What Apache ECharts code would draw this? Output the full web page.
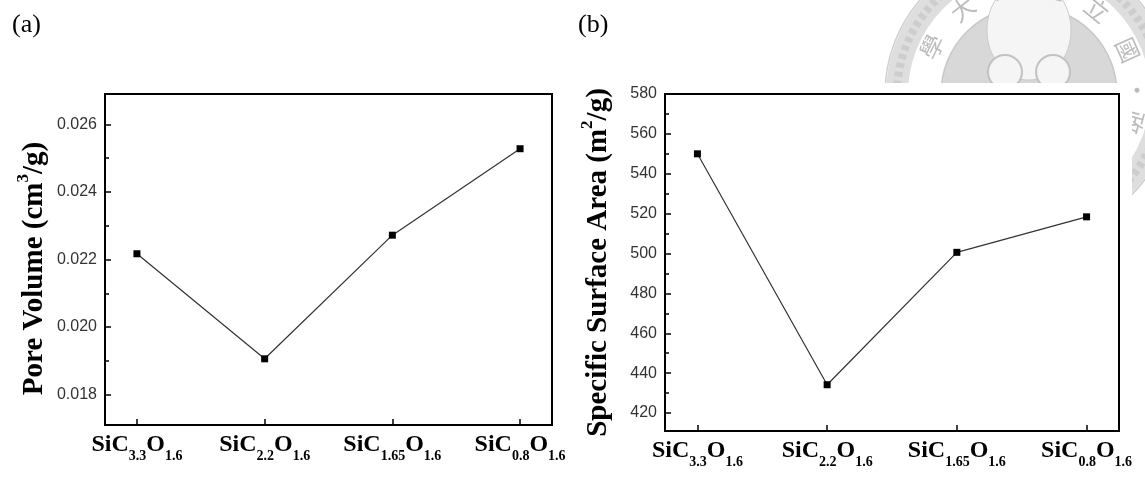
<!DOCTYPE html>
<html>
<head>
<meta charset="utf-8">
<script src="https://cdn.jsdelivr.net/npm/echarts@6/dist/echarts.min.js"></script>
<style>
  html, body { margin: 0; padding: 0; background: #fff; }
  #chart { width: 1145px; height: 483px; }
</style>
</head>
<body>
<div id="chart"></div>
<script>
// Sample compositions SiC_xO_y: [C subscript, O subscript]
const samples = [['3.3', '1.6'], ['2.2', '1.6'], ['1.65', '1.6'], ['0.8', '1.6']];
// (a) pore volume, cm3/g
const poreVolume = [0.02217, 0.01906, 0.02272, 0.02528];
// (b) specific surface area, m2/g
const surfaceArea = [550, 434.2, 500.6, 518.4];

// tick values
const sampleTicks = [0, 1, 2, 3];
const poreTicks = [0.018, 0.020, 0.022, 0.024, 0.026];
const poreMinorTicks = [0.019, 0.021, 0.023, 0.025];
const areaTicks = [420, 440, 460, 480, 500, 520, 540, 560, 580];
const areaMinorTicks = [430, 450, 470, 490, 510, 530, 550, 570];

const SERIF = '"Liberation Serif", "Times New Roman", serif';
const SANS = '"Liberation Sans", Arial, sans-serif';
const TICK_STYLE = { color: '#000', width: 1.5 };

function sampleLabel(v) {
  const s = samples[Math.round(v)];
  return '{m|SiC}{s|' + s[0] + '}{m|O}{s|' + s[1] + '}';
}

const sampleRich = {
  m: { fontFamily: SERIF, fontWeight: 'bold', fontSize: 24, lineHeight: 24, color: '#000', verticalAlign: 'top' },
  s: { fontFamily: SERIF, fontWeight: 'bold', fontSize: 14, lineHeight: 14, color: '#000', verticalAlign: 'top', padding: [16, 0, 0, 0] }
};

// x axis carrying the line and the composition labels
function xLabelAxis(gridIndex) {
  return {
    type: 'value', gridIndex: gridIndex, position: 'bottom', min: -0.25, max: 3.25,
    axisLine: { show: true, onZero: false, lineStyle: { color: '#000', width: 2 } },
    axisTick: { show: false },
    axisLabel: { customValues: sampleTicks, margin: 8, formatter: sampleLabel, rich: sampleRich },
    splitLine: { show: false }
  };
}

// bare axis used only for tick marks
function tickAxis(dim, gridIndex, min, max, ticks, len) {
  return {
    type: 'value', gridIndex: gridIndex, position: dim === 'x' ? 'bottom' : 'left', offset: 0,
    min: min, max: max,
    axisLine: { show: false, onZero: false },
    axisTick: { show: true, inside: true, length: len, customValues: ticks, lineStyle: TICK_STYLE },
    axisLabel: { show: false },
    splitLine: { show: false }
  };
}

function nameStyle(pad) {
  return {
    fontFamily: SERIF, fontWeight: 'bold', fontSize: 29, color: '#000', padding: pad,
    rich: {
      t: { fontFamily: SERIF, fontWeight: 'bold', fontSize: 29, lineHeight: 29, color: '#000', verticalAlign: 'top', padding: [5, 0, 0, 0] },
      sup: { fontFamily: SERIF, fontWeight: 'bold', fontSize: 17, lineHeight: 17, color: '#000', verticalAlign: 'top' }
    }
  };
}

// y axis carrying the line, value labels and title
function yLabelAxis(gridIndex, min, max, ticks, fmt, name, gap, pad) {
  return {
    type: 'value', gridIndex: gridIndex, position: 'left', offset: 0, min: min, max: max,
    axisLine: { show: true, onZero: false, lineStyle: { color: '#000', width: 2 } },
    axisTick: { show: false },
    axisLabel: { customValues: ticks, formatter: fmt, margin: 8, fontFamily: SANS, fontSize: 16, color: '#333' },
    splitLine: { show: false },
    name: name, nameLocation: 'middle', nameRotate: 90, nameGap: gap, nameTextStyle: nameStyle(pad)
  };
}

// faint university seal in the top-right corner
const SEAL_X = 1029, SEAL_Y = 94;
const sealChars = [['國', -24], ['立', -51], ['臺', -77], ['灣', -103], ['大', -128], ['學', -154], ['•', -2], ['政', 15]];
const seal = [
  { type: 'circle', z: -3, shape: { cx: SEAL_X, cy: SEAL_Y, r: 132 }, style: { fill: 'none', stroke: '#dedede', lineWidth: 22 } },
  { type: 'circle', z: -3, shape: { cx: SEAL_X, cy: SEAL_Y, r: 132 }, style: { fill: 'none', stroke: '#cdcdcd', lineWidth: 8, lineDash: [5, 4] } },
  { type: 'circle', z: -3, shape: { cx: SEAL_X, cy: SEAL_Y, r: 144 }, style: { fill: 'none', stroke: '#d0d0d0', lineWidth: 1.5 } },
  { type: 'circle', z: -3, shape: { cx: SEAL_X, cy: SEAL_Y, r: 88 }, style: { fill: '#d8d8d8', stroke: '#c8c8c8', lineWidth: 1.5 } },
  { type: 'ellipse', z: -3, shape: { cx: SEAL_X, cy: 30, rx: 42, ry: 50 }, style: { fill: '#f5f5f5', stroke: '#cccccc', lineWidth: 1 } },
  { type: 'circle', z: -3, shape: { cx: SEAL_X - 24, cy: 72, r: 17 }, style: { fill: '#f5f5f5', stroke: '#c2c2c2', lineWidth: 2 } },
  { type: 'circle', z: -3, shape: { cx: SEAL_X + 24, cy: 72, r: 17 }, style: { fill: '#f5f5f5', stroke: '#c2c2c2', lineWidth: 2 } }
];
sealChars.forEach(function (c) {
  const a = c[1] * Math.PI / 180;
  seal.push({
    type: 'text', z: -3,
    x: SEAL_X + 108 * Math.cos(a), y: SEAL_Y + 108 * Math.sin(a),
    rotation: -(c[1] + 90) * Math.PI / 180,
    style: { text: c[0], fontSize: 24, fontFamily: '"Noto Sans CJK TC", sans-serif', fill: '#bcbcbc', align: 'center', verticalAlign: 'middle', textAlign: 'center', textVerticalAlign: 'middle' }
  });
});
// white sheet under the right-hand plot
seal.push({ type: 'rect', z: -2, shape: { x: 560, y: 83, width: 572, height: 400 }, style: { fill: '#fff' } });

const PORE_MIN = 0.0171, PORE_MAX = 0.0269;
const AREA_MIN = 411, AREA_MAX = 580;

const option = {
  animation: false,
  backgroundColor: '#fff',
  grid: [
    { left: 105, top: 94, width: 447, height: 331, show: true, borderColor: '#000', borderWidth: 2, backgroundColor: 'transparent' },
    { left: 665, top: 94, width: 454, height: 337, show: true, borderColor: '#000', borderWidth: 2, backgroundColor: 'transparent' }
  ],
  xAxis: [
    xLabelAxis(0),
    tickAxis('x', 0, -0.25, 3.25, sampleTicks, 6),
    xLabelAxis(1),
    tickAxis('x', 1, -0.25, 3.25, sampleTicks, 6)
  ],
  yAxis: [
    yLabelAxis(0, PORE_MIN, PORE_MAX, poreTicks, function (v) { return v.toFixed(3); },
      '{t|Pore Volume (cm}{sup|3}{t|/g)}', 61, [0, 18, 0, 0]),
    tickAxis('y', 0, PORE_MIN, PORE_MAX, poreTicks, 6),
    tickAxis('y', 0, PORE_MIN, PORE_MAX, poreMinorTicks, 4),
    yLabelAxis(1, AREA_MIN, AREA_MAX, areaTicks, function (v) { return String(Math.round(v)); },
      '{t|Specific Surface Area (m}{sup|2}{t|/g)}', 57, [0, 0, 0, 0]),
    tickAxis('y', 1, AREA_MIN, AREA_MAX, areaTicks, 6),
    tickAxis('y', 1, AREA_MIN, AREA_MAX, areaMinorTicks, 4)
  ],
  graphic: seal.concat([
    { type: 'text', left: 12, top: 12, style: { text: '(a)', fontSize: 26, fontFamily: SERIF, fill: '#000' } },
    { type: 'text', left: 578, top: 12, style: { text: '(b)', fontSize: 26, fontFamily: SERIF, fill: '#000' } }
  ]),
  series: [
    {
      type: 'line', xAxisIndex: 0, yAxisIndex: 0,
      data: poreVolume.map(function (v, i) { return [i, v]; }),
      symbol: 'rect', symbolSize: 7, itemStyle: { color: '#000' },
      lineStyle: { color: '#333', width: 1.2 }
    },
    {
      type: 'line', xAxisIndex: 2, yAxisIndex: 3,
      data: surfaceArea.map(function (v, i) { return [i, v]; }),
      symbol: 'rect', symbolSize: 7, itemStyle: { color: '#000' },
      lineStyle: { color: '#333', width: 1.2 }
    }
  ]
};

const chart = echarts.init(document.getElementById('chart'));
chart.setOption(option);
</script>
</body>
</html>
